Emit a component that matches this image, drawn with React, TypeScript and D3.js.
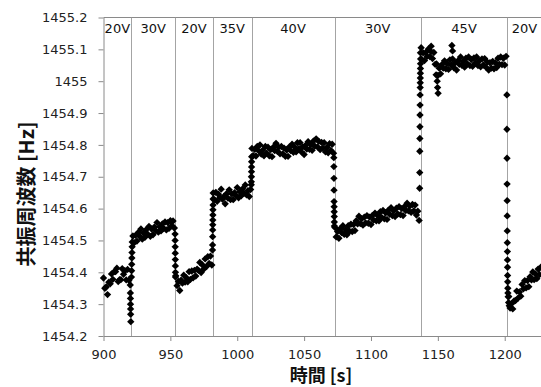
import React, { useEffect, useRef } from "react";
import * as d3 from "d3";

// resonance frequency (Hz), one reading per second on each plateau
const plateauStart = [900, 922, 954, 982, 1011, 1073, 1137, 1203];

const plateau20a = [
  1454.382, 1454.350, 1454.354, 1454.330, 1454.369, 1454.364, 1454.395, 1454.378, 1454.402, 1454.402,
  1454.413, 1454.371, 1454.377, 1454.377, 1454.411, 1454.394, 1454.405, 1454.376, 1454.409, 1454.375,
];
const plateau30a = [
  1454.514, 1454.493, 1454.516, 1454.498, 1454.525, 1454.513, 1454.536, 1454.504, 1454.523, 1454.510,
  1454.534, 1454.520, 1454.544, 1454.513, 1454.536, 1454.518, 1454.542, 1454.531, 1454.556, 1454.526,
  1454.543, 1454.530, 1454.552, 1454.538, 1454.558, 1454.533, 1454.556, 1454.538, 1454.562, 1454.546,
  1454.561, 1454.539,
];
const plateau20b = [
  1454.389, 1454.358, 1454.371, 1454.343, 1454.375, 1454.366, 1454.391, 1454.369, 1454.383, 1454.370,
  1454.402, 1454.378, 1454.404, 1454.383, 1454.406, 1454.388, 1454.410, 1454.406, 1454.431, 1454.399,
  1454.423, 1454.410, 1454.442, 1454.418, 1454.449, 1454.428, 1454.451, 1454.423,
];
const plateau35 = [
  1454.649, 1454.628, 1454.651, 1454.623, 1454.645, 1454.636, 1454.661, 1454.629, 1454.638, 1454.615,
  1454.647, 1454.633, 1454.659, 1454.628, 1454.646, 1454.628, 1454.650, 1454.641, 1454.666, 1454.634,
  1454.653, 1454.640, 1454.662, 1454.648, 1454.674, 1454.643, 1454.656, 1454.638, 1454.660,
];
const plateau40 = [
  1454.789, 1454.766, 1454.786, 1454.765, 1454.795, 1454.782, 1454.800, 1454.771, 1454.783, 1454.766,
  1454.795, 1454.774, 1454.793, 1454.766, 1454.785, 1454.763, 1454.793, 1454.782, 1454.805, 1454.780,
  1454.793, 1454.772, 1454.795, 1454.772, 1454.790, 1454.764, 1454.784, 1454.764, 1454.794, 1454.782,
  1454.802, 1454.777, 1454.793, 1454.778, 1454.807, 1454.788, 1454.807, 1454.778, 1454.794, 1454.770,
  1454.798, 1454.787, 1454.810, 1454.786, 1454.801, 1454.783, 1454.812, 1454.796, 1454.819, 1454.794,
  1454.811, 1454.785, 1454.808, 1454.790, 1454.807, 1454.778, 1454.792, 1454.775, 1454.804, 1454.783,
  1454.802, 1454.774,
];
const plateau30b = [
  1454.541, 1454.511, 1454.528, 1454.507, 1454.537, 1454.525, 1454.546, 1454.519, 1454.534, 1454.518,
  1454.546, 1454.529, 1454.551, 1454.528, 1454.550, 1454.531, 1454.562, 1454.552, 1454.576, 1454.553,
  1454.568, 1454.548, 1454.573, 1454.555, 1454.578, 1454.554, 1454.573, 1454.550, 1454.578, 1454.564,
  1454.586, 1454.562, 1454.578, 1454.562, 1454.590, 1454.572, 1454.594, 1454.568, 1454.587, 1454.566,
  1454.595, 1454.582, 1454.603, 1454.578, 1454.593, 1454.575, 1454.601, 1454.583, 1454.606, 1454.581,
  1454.600, 1454.578, 1454.606, 1454.594, 1454.617, 1454.593, 1454.608, 1454.588, 1454.613, 1454.593,
  1454.611, 1454.580, 1454.592, 1454.563,
];
const plateau45 = [
  1455.089, 1455.068, 1455.089, 1455.065, 1455.090, 1455.078, 1455.101, 1455.077, 1455.093, 1455.071,
  1455.090, 1455.053, 1455.054, 1455.018, 1455.041, 1455.023, 1455.052, 1455.041, 1455.064, 1455.039,
  1455.055, 1455.037, 1455.067, 1455.051, 1455.070, 1455.042, 1455.058, 1455.035, 1455.064, 1455.053,
  1455.076, 1455.050, 1455.063, 1455.044, 1455.072, 1455.055, 1455.076, 1455.049, 1455.068, 1455.047,
  1455.073, 1455.057, 1455.076, 1455.049, 1455.064, 1455.045, 1455.070, 1455.051, 1455.071, 1455.044,
  1455.060, 1455.035, 1455.058, 1455.041, 1455.062, 1455.039, 1455.058, 1455.043, 1455.072, 1455.053,
  1455.076, 1455.052, 1455.072, 1455.051, 1455.078,
];
const plateau20c = [
  1454.324, 1454.288, 1454.301, 1454.285, 1454.310, 1454.311, 1454.341, 1454.319, 1454.338, 1454.325,
  1454.362, 1454.348, 1454.374, 1454.351, 1454.374, 1454.355, 1454.386, 1454.376, 1454.401, 1454.377,
  1454.395, 1454.380, 1454.410, 1454.393, 1454.416,
];
const plateaus = [plateau20a, plateau30a, plateau20b, plateau35, plateau40, plateau30b, plateau45, plateau20c];

// fast samples during each voltage step, and stray points off the plateaus: [time s, Hz]
const stepPoints: [number, number][] = [
  [920.0, 1454.360], [920.1, 1454.335], [920.15, 1454.318], [920.2, 1454.300], [920.25, 1454.285],
  [920.3, 1454.268], [920.4, 1454.245], [920.9, 1454.385], [921.0, 1454.405], [921.1, 1454.425],
  [921.2, 1454.445], [921.3, 1454.462], [921.4, 1454.480], [921.5, 1454.495],
  [953.5, 1454.520], [953.55, 1454.500], [953.6, 1454.480], [953.65, 1454.460], [953.7, 1454.440],
  [953.75, 1454.420], [953.8, 1454.400], [953.85, 1454.385],
  [981.5, 1454.470], [981.55, 1454.486], [981.6, 1454.512], [981.65, 1454.533], [981.7, 1454.549],
  [981.75, 1454.564], [981.8, 1454.580], [981.85, 1454.596], [981.9, 1454.611], [981.95, 1454.630],
  [1010.5, 1454.675], [1010.55, 1454.684], [1010.6, 1454.700], [1010.65, 1454.716], [1010.7, 1454.731],
  [1010.75, 1454.747], [1010.8, 1454.763],
  [1072.2, 1454.760], [1072.25, 1454.732], [1072.3, 1454.695], [1072.35, 1454.658], [1072.4, 1454.622],
  [1072.45, 1454.606], [1072.5, 1454.590], [1072.55, 1454.575], [1072.6, 1454.558], [1072.65, 1454.545],
  [1136.4, 1454.664], [1136.45, 1454.713], [1136.5, 1454.780], [1136.55, 1454.820], [1136.6, 1454.857],
  [1136.65, 1454.894], [1136.7, 1454.925], [1136.75, 1454.957], [1136.8, 1454.980], [1136.85, 1454.995],
  [1136.9, 1455.010], [1136.95, 1455.025], [1137.0, 1455.040], [1137.05, 1455.055], [1137.1, 1455.070],
  [1137.5, 1455.105], [1145.0, 1455.110], [1148.7, 1455.020], [1149.5, 1455.000], [1149.8, 1454.980],
  [1150.2, 1454.962], [1160.5, 1455.112], [1161.0, 1455.095],
  [1201.6, 1454.957], [1201.65, 1454.849], [1201.7, 1454.758], [1201.75, 1454.677], [1201.8, 1454.625],
  [1201.85, 1454.577], [1201.9, 1454.530], [1201.95, 1454.493], [1202.0, 1454.465], [1202.05, 1454.439],
  [1202.1, 1454.416], [1202.15, 1454.390], [1202.2, 1454.370], [1202.3, 1454.350], [1202.4, 1454.335],
  [1202.6, 1454.323], [1202.9, 1454.305], [1203.4, 1454.295],
];

const boundaries = [920.7, 953.6, 981.8, 1010.7, 1072.8, 1137.2, 1202];
const voltageLabels = ["20V", "30V", "20V", "35V", "40V", "30V", "45V", "20V"];
const xTicks = [900, 950, 1000, 1050, 1100, 1150, 1200];
const yTicks = [1454.2, 1454.3, 1454.4, 1454.5, 1454.6, 1454.7, 1454.8, 1454.9, 1455, 1455.1, 1455.2];

const FONT = "'DejaVu Sans', Verdana, sans-serif";
const CJK = "'Noto Sans CJK JP', 'Noto Sans CJK SC', sans-serif";
const AXIS = "#8a8a8a";

export default function App() {
  const svgRef = useRef<SVGSVGElement>(null);

  useEffect(() => {
    const svg = d3.select(svgRef.current);
    svg.selectAll("*").remove();

    const left = 103.5, top = 17.5, bottom = 336;
    const x = d3.scaleLinear().domain([900, 1227.5]).range([left, 541.5]);
    const y = d3.scaleLinear().domain([1454.2, 1455.2]).range([bottom, top]);

    // all samples as [t, f]
    const points: [number, number][] = [];
    plateaus.forEach((vals, i) => {
      vals.forEach((v, k) => points.push([plateauStart[i] + k, v]));
    });
    stepPoints.forEach((p) => points.push(p));

    // top frame line
    svg.append("line")
      .attr("x1", left).attr("x2", 560)
      .attr("y1", top).attr("y2", top)
      .attr("stroke", AXIS).attr("stroke-width", 1);

    // voltage step lines
    svg.append("g")
      .selectAll("line")
      .data(boundaries)
      .enter()
      .append("line")
      .attr("x1", (d) => Math.round(x(d)) + 0.5)
      .attr("x2", (d) => Math.round(x(d)) + 0.5)
      .attr("y1", top).attr("y2", bottom)
      .attr("stroke", "#9a9a9a")
      .attr("stroke-width", 0.9);

    // voltage labels centred in each interval
    const edges = [900, ...boundaries, 1227.5];
    svg.append("g")
      .selectAll("text")
      .data(voltageLabels)
      .enter()
      .append("text")
      .attr("x", (_, i) => (x(edges[i]) + x(edges[i + 1])) / 2)
      .attr("y", 33)
      .attr("text-anchor", "middle")
      .style("font-family", FONT)
      .style("font-size", "13px")
      .attr("fill", "#111")
      .text((d) => d);

    // x axis
    const xAxis = svg.append("g")
      .attr("transform", `translate(0, ${bottom})`)
      .call(
        d3.axisBottom(x)
          .tickValues(xTicks)
          .tickSize(5)
          .tickSizeOuter(0)
          .tickPadding(9)
          .tickFormat((d) => String(d))
      );

    // y axis
    const yAxis = svg.append("g")
      .attr("transform", `translate(${left}, 0)`)
      .call(
        d3.axisLeft(y)
          .tickValues(yTicks)
          .tickSize(5)
          .tickSizeOuter(0)
          .tickPadding(11)
          .tickFormat((d) => String(+(+d).toFixed(1)))
      );

    [xAxis, yAxis].forEach((g) => {
      g.select(".domain").attr("stroke", AXIS);
      g.selectAll(".tick line").attr("stroke", AXIS);
      g.selectAll(".tick text")
        .attr("fill", "#222")
        .style("font-family", FONT)
        .style("font-size", "13px");
    });

    // samples
    const diamond = d3.symbol().type(d3.symbolSquare).size(27)();
    svg.append("g")
      .selectAll("path")
      .data(points)
      .enter()
      .append("path")
      .attr("d", diamond)
      .attr("transform", (d) => `translate(${x(d[0])}, ${y(d[1])}) rotate(45)`)
      .attr("fill", "#000");

    // axis titles
    svg.append("text")
      .attr("x", 321)
      .attr("y", 382)
      .attr("text-anchor", "middle")
      .style("font-family", CJK)
      .style("font-size", "18px")
      .style("font-weight", "bold")
      .attr("fill", "#111")
      .text("時間 [s]");

    svg.append("text")
      .attr("transform", "translate(25, 194) rotate(-90)")
      .attr("text-anchor", "middle")
      .attr("dominant-baseline", "central")
      .style("font-family", CJK)
      .style("font-size", "20px")
      .style("font-weight", "bold")
      .attr("fill", "#111")
      .text("共振周波数 [Hz]");
  }, []);

  return (
    <svg
      ref={svgRef}
      width={541}
      height={387}
      style={{ position: "absolute", left: 0, top: 0, background: "#fff" }}
    />
  );
}
